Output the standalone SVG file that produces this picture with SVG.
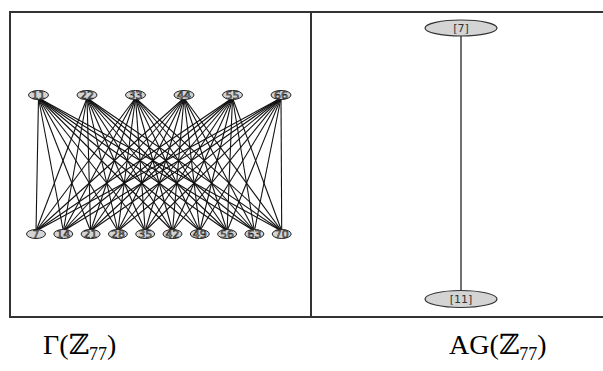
<svg xmlns="http://www.w3.org/2000/svg" width="603" height="371" viewBox="0 0 603 371">
<style>
.frame{stroke:#333;stroke-width:2;fill:none}
.e{stroke:#111;stroke-width:1.1}
.n ellipse{fill:#d4d4d4;stroke:#222;stroke-width:1}
.n text{font-family:"DejaVu Sans","Liberation Sans",sans-serif;font-size:11px;fill:#bbb;stroke:#222;stroke-width:0.6;text-anchor:middle}
.r ellipse{fill:#d4d4d4;stroke:#333;stroke-width:1.2}
.r text{font-family:"DejaVu Sans","Liberation Sans",sans-serif;font-size:11px;fill:#333;text-anchor:middle}
.cap{font-family:"Liberation Serif","DejaVu Serif",serif;font-size:28px;fill:#000}
</style>
<rect width="603" height="371" fill="#fff"/>
<g id="table">
<line class="frame" x1="10" y1="12" x2="603" y2="12"/>
<line class="frame" x1="10" y1="317" x2="603" y2="317"/>
<line class="frame" x1="10" y1="11" x2="10" y2="318"/>
<line class="frame" x1="311" y1="11" x2="311" y2="318"/>
</g>
<g id="connectors">
<g class="e">
<line x1="38.5" y1="98" x2="36" y2="231"/><line x1="38.5" y1="98" x2="63.3" y2="231"/><line x1="38.5" y1="98" x2="90.6" y2="231"/><line x1="38.5" y1="98" x2="117.9" y2="231"/><line x1="38.5" y1="98" x2="145.2" y2="231"/><line x1="38.5" y1="98" x2="172.5" y2="231"/><line x1="38.5" y1="98" x2="199.8" y2="231"/><line x1="38.5" y1="98" x2="227.1" y2="231"/><line x1="38.5" y1="98" x2="254.4" y2="231"/><line x1="38.5" y1="98" x2="281.7" y2="231"/>
<line x1="87" y1="98" x2="36" y2="231"/><line x1="87" y1="98" x2="63.3" y2="231"/><line x1="87" y1="98" x2="90.6" y2="231"/><line x1="87" y1="98" x2="117.9" y2="231"/><line x1="87" y1="98" x2="145.2" y2="231"/><line x1="87" y1="98" x2="172.5" y2="231"/><line x1="87" y1="98" x2="199.8" y2="231"/><line x1="87" y1="98" x2="227.1" y2="231"/><line x1="87" y1="98" x2="254.4" y2="231"/><line x1="87" y1="98" x2="281.7" y2="231"/>
<line x1="135.5" y1="98" x2="36" y2="231"/><line x1="135.5" y1="98" x2="63.3" y2="231"/><line x1="135.5" y1="98" x2="90.6" y2="231"/><line x1="135.5" y1="98" x2="117.9" y2="231"/><line x1="135.5" y1="98" x2="145.2" y2="231"/><line x1="135.5" y1="98" x2="172.5" y2="231"/><line x1="135.5" y1="98" x2="199.8" y2="231"/><line x1="135.5" y1="98" x2="227.1" y2="231"/><line x1="135.5" y1="98" x2="254.4" y2="231"/><line x1="135.5" y1="98" x2="281.7" y2="231"/>
<line x1="184" y1="98" x2="36" y2="231"/><line x1="184" y1="98" x2="63.3" y2="231"/><line x1="184" y1="98" x2="90.6" y2="231"/><line x1="184" y1="98" x2="117.9" y2="231"/><line x1="184" y1="98" x2="145.2" y2="231"/><line x1="184" y1="98" x2="172.5" y2="231"/><line x1="184" y1="98" x2="199.8" y2="231"/><line x1="184" y1="98" x2="227.1" y2="231"/><line x1="184" y1="98" x2="254.4" y2="231"/><line x1="184" y1="98" x2="281.7" y2="231"/>
<line x1="232.5" y1="98" x2="36" y2="231"/><line x1="232.5" y1="98" x2="63.3" y2="231"/><line x1="232.5" y1="98" x2="90.6" y2="231"/><line x1="232.5" y1="98" x2="117.9" y2="231"/><line x1="232.5" y1="98" x2="145.2" y2="231"/><line x1="232.5" y1="98" x2="172.5" y2="231"/><line x1="232.5" y1="98" x2="199.8" y2="231"/><line x1="232.5" y1="98" x2="227.1" y2="231"/><line x1="232.5" y1="98" x2="254.4" y2="231"/><line x1="232.5" y1="98" x2="281.7" y2="231"/>
<line x1="281" y1="98" x2="36" y2="231"/><line x1="281" y1="98" x2="63.3" y2="231"/><line x1="281" y1="98" x2="90.6" y2="231"/><line x1="281" y1="98" x2="117.9" y2="231"/><line x1="281" y1="98" x2="145.2" y2="231"/><line x1="281" y1="98" x2="172.5" y2="231"/><line x1="281" y1="98" x2="199.8" y2="231"/><line x1="281" y1="98" x2="227.1" y2="231"/><line x1="281" y1="98" x2="254.4" y2="231"/><line x1="281" y1="98" x2="281.7" y2="231"/>
</g>
<line x1="461" y1="35" x2="461" y2="292" stroke="#222" stroke-width="1.3"/>
</g>
<g id="n11" class="n"><ellipse cx="38.5" cy="95" rx="10" ry="4.5"/><text x="38.5" y="99">11</text></g>
<g id="n22" class="n"><ellipse cx="87" cy="95" rx="10" ry="4.5"/><text x="87" y="99">22</text></g>
<g id="n33" class="n"><ellipse cx="135.5" cy="95" rx="10" ry="4.5"/><text x="135.5" y="99">33</text></g>
<g id="n44" class="n"><ellipse cx="184" cy="95" rx="10" ry="4.5"/><text x="184" y="99">44</text></g>
<g id="n55" class="n"><ellipse cx="232.5" cy="95" rx="10" ry="4.5"/><text x="232.5" y="99">55</text></g>
<g id="n66" class="n"><ellipse cx="281" cy="95" rx="10" ry="4.5"/><text x="281" y="99">66</text></g>
<g id="n7" class="n"><ellipse cx="36" cy="234" rx="9.5" ry="4.5"/><text x="36" y="238">7</text></g>
<g id="n14" class="n"><ellipse cx="63.3" cy="234" rx="9.5" ry="4.5"/><text x="63.3" y="238">14</text></g>
<g id="n21" class="n"><ellipse cx="90.6" cy="234" rx="9.5" ry="4.5"/><text x="90.6" y="238">21</text></g>
<g id="n28" class="n"><ellipse cx="117.9" cy="234" rx="9.5" ry="4.5"/><text x="117.9" y="238">28</text></g>
<g id="n35" class="n"><ellipse cx="145.2" cy="234" rx="9.5" ry="4.5"/><text x="145.2" y="238">35</text></g>
<g id="n42" class="n"><ellipse cx="172.5" cy="234" rx="9.5" ry="4.5"/><text x="172.5" y="238">42</text></g>
<g id="n49" class="n"><ellipse cx="199.8" cy="234" rx="9.5" ry="4.5"/><text x="199.8" y="238">49</text></g>
<g id="n56" class="n"><ellipse cx="227.1" cy="234" rx="9.5" ry="4.5"/><text x="227.1" y="238">56</text></g>
<g id="n63" class="n"><ellipse cx="254.4" cy="234" rx="9.5" ry="4.5"/><text x="254.4" y="238">63</text></g>
<g id="n70" class="n"><ellipse cx="281.7" cy="234" rx="9.5" ry="4.5"/><text x="281.7" y="238">70</text></g>
<g id="c7" class="r"><ellipse cx="461" cy="28" rx="36" ry="8"/><text x="461" y="32">[7]</text></g>
<g id="c11" class="r"><ellipse cx="461" cy="299" rx="36" ry="8.5"/><text x="461" y="303">[11]</text></g>
<text class="cap" x="43" y="354">Γ(ℤ<tspan font-size="18" dy="6">77</tspan><tspan dy="-6">)</tspan></text>
<text class="cap" x="449" y="354">AG(ℤ<tspan font-size="18" dy="6">77</tspan><tspan dy="-6">)</tspan></text>
</svg>
